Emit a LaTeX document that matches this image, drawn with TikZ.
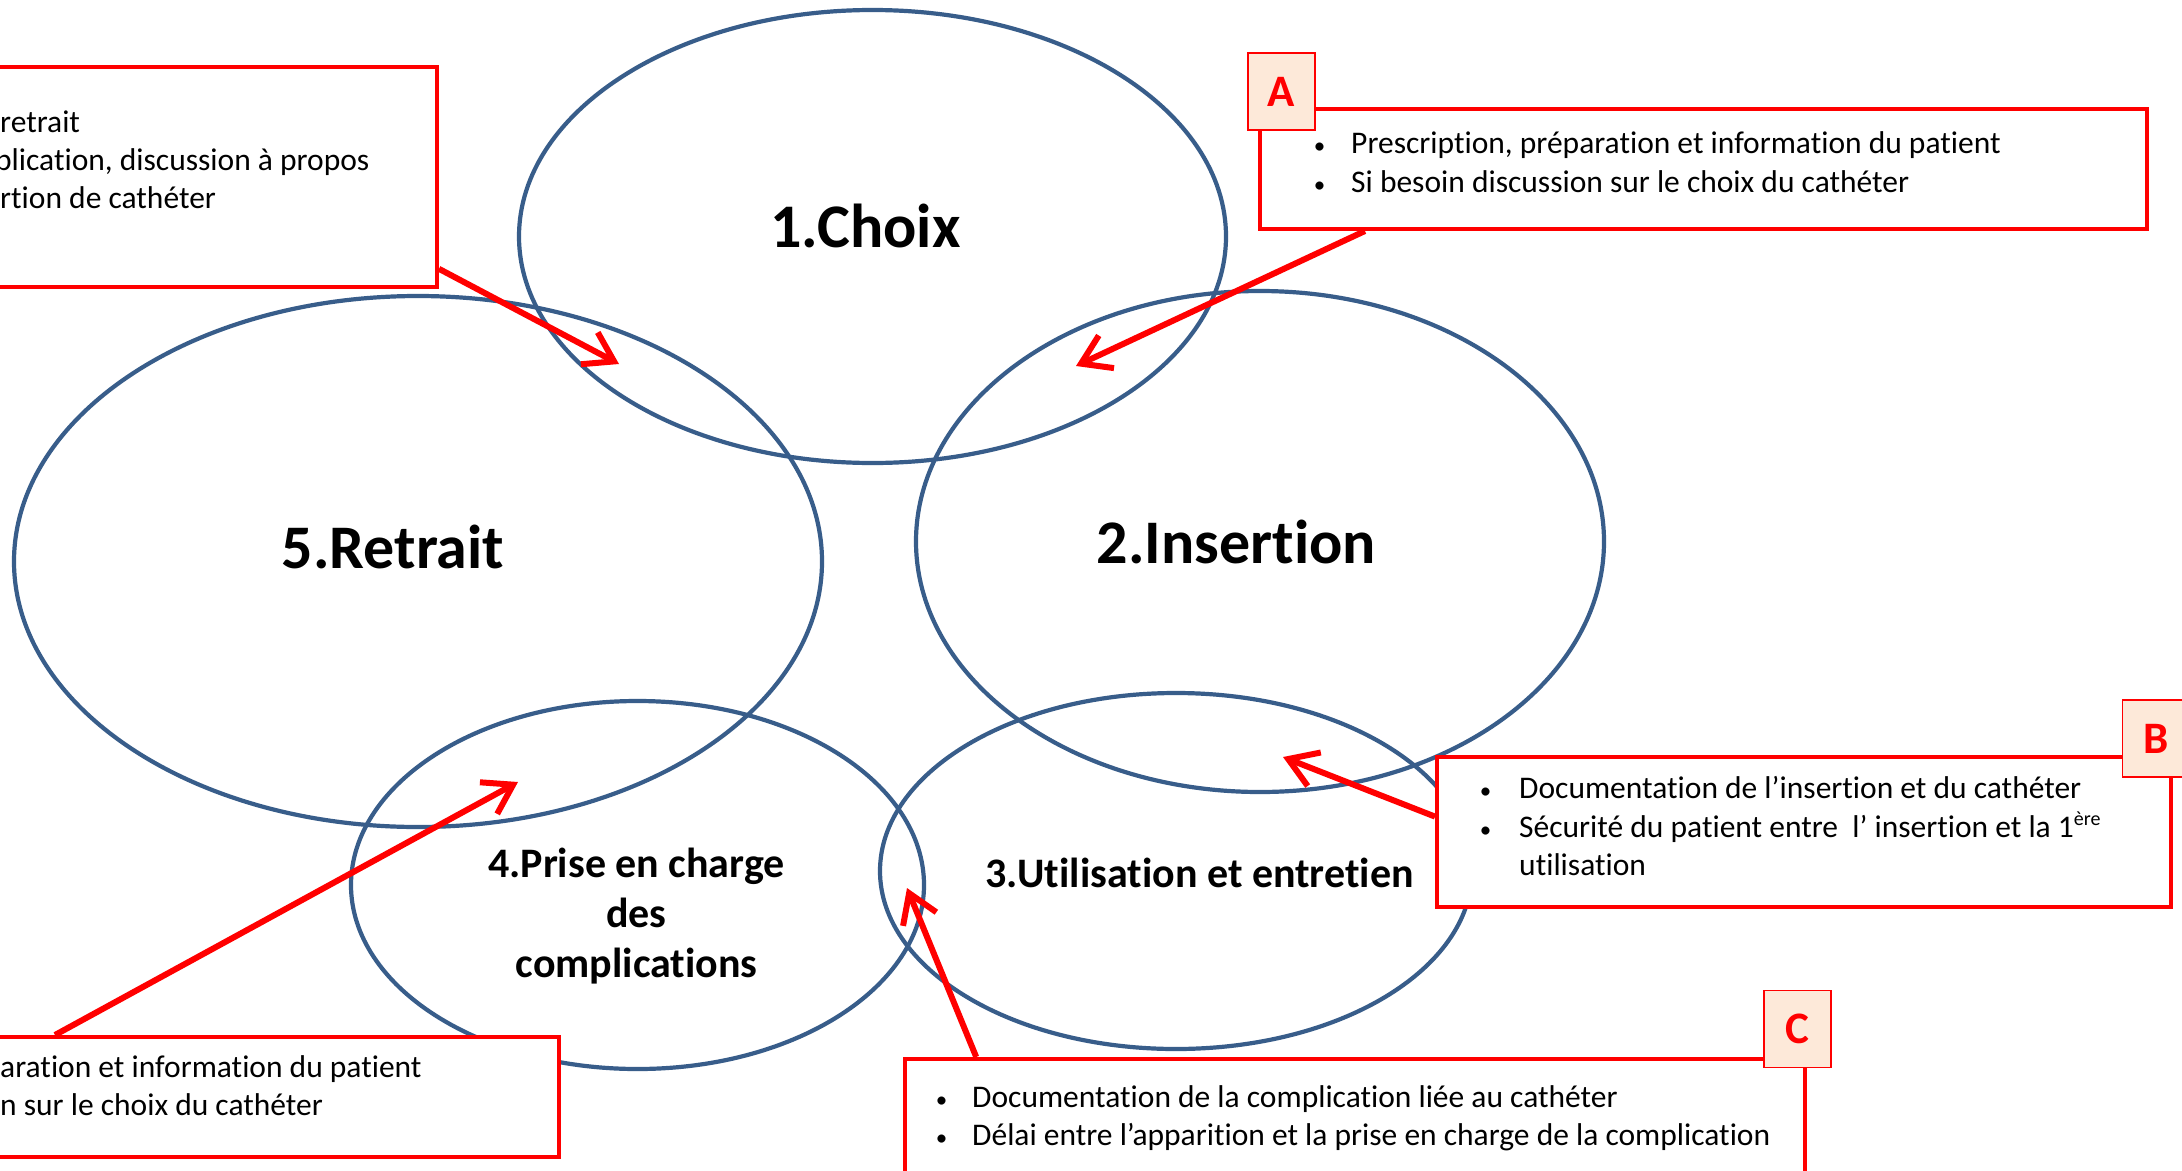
\documentclass[tikz,border=0pt]{standalone}
\usepackage{fontspec}
\setmainfont{Carlito}[Ligatures={NoCommon,NoRare},Contextuals=NoAlternate,RawFeature=-clig]
\usetikzlibrary{arrows.meta,shapes.geometric,calc}
\definecolor{ellblue}{RGB}{56,93,138}
\definecolor{peach}{RGB}{253,233,217}
\begin{document}
\begin{tikzpicture}[x=1pt,y=-1pt,
  ell/.style={draw=ellblue,line width=4.2pt,ellipse,inner sep=0pt},
  rbox/.style={draw=red,fill=white,line width=4pt,rectangle,inner sep=0pt},
  tag/.style={draw=red,fill=peach,line width=1.5pt,minimum width=67pt,minimum height=77pt,inner sep=0pt,text=red,font=\fontsize{45}{45}\selectfont\bfseries},
  big/.style={font=\fontsize{62}{62}\selectfont\bfseries,anchor=base,inner sep=0pt},
  mid/.style={font=\fontsize{42}{50}\selectfont\bfseries,anchor=base,inner sep=0pt},
  txt/.style={font=\fontsize{31.5}{38}\selectfont,anchor=base west,inner sep=0pt},
  bul/.style={font=\fontsize{23}{23}\selectfont,anchor=base,inner sep=0pt},
  arr/.style={draw=red,line width=6pt,-{Straight Barb[length=28pt,width=36pt]}}
]
\useasboundingbox (0,0) rectangle (2182,1170);
\clip (0,0) rectangle (2182,1170);
\fill[white] (0,0) rectangle (2182,1170);

% ellipses
\node[ell,minimum width=707pt,minimum height=453pt] (e1) at (872.5,236.5) {};
\node[ell,minimum width=808pt,minimum height=531pt] (e5) at (418,561.5) {};
\node[ell,minimum width=688pt,minimum height=501pt] (e2) at (1260,541.5) {};
\node[ell,minimum width=573pt,minimum height=368pt] (e4) at (637.5,885) {};
\node[ell,minimum width=592pt,minimum height=356pt] (e3) at (1176,871) {};

% ellipse labels
\node[big] (l1) at (865.5,247) {1.Choix};
\node[big] (l5) at (393,568) {5.Retrait};
\node[big] (l2) at (1236.5,563) {2.Insertion};
\node[mid] (l3) at (1199.5,887) {3.Utilisation et entretien};
\node[mid] (l4a) at (636.5,877) {4.Prise en charge};
\node[mid] (l4b) at (636.5,927) {des};
\node[mid] (l4c) at (636.5,977) {complications};

% boxes
\node[rbox,minimum width=737pt,minimum height=220pt] (boxTL) at (68.5,177) {};
\node[rbox,minimum width=887pt,minimum height=120pt] (boxA) at (1703.5,169) {};
\node[rbox,minimum width=734pt,minimum height=150pt] (boxB) at (1804,832) {};
\node[rbox,minimum width=900pt,minimum height=191pt] (boxC) at (1355,1154.5) {};
\node[rbox,minimum width=859pt,minimum height=120pt] (boxBL) at (129.5,1097) {};

% tags
\node[tag] (tagA) at (1281.5,91.5) {A};
\node[tag] (tagB) at (2156,738.5) {B};
\node[tag] (tagC) at (1797.5,1029) {C};

% box texts
\node[txt] (tl1) at (0,132) {retrait};
\node[txt] (tl2) at (-5,170) {plication, discussion à propos};
\node[txt] (tl3) at (0,208) {rtion de cathéter};

\node[bul] (ba1) at (1319.5,153) {•};
\node[txt] (ta1) at (1351,153) {Prescription, préparation et information du patient};
\node[bul] (ba2) at (1319.5,192) {•};
\node[txt] (ta2) at (1351,192) {Si besoin discussion sur le choix du cathéter};

\node[bul] (bb1) at (1485.5,798) {•};
\node[txt] (tb1) at (1519,798) {Documentation de l’insertion et du cathéter};
\node[bul] (bb2) at (1485.5,837) {•};
\node[txt] (tb2) at (1519,837) {Sécurité du patient entre\ \ l’ insertion et la 1\raisebox{12pt}{\fontsize{20}{20}\selectfont ère}};
\node[txt] (tb3) at (1519,875) {utilisation};

\node[bul] (bc1) at (941.5,1107) {•};
\node[txt] (tc1) at (972,1107) {Documentation de la complication liée au cathéter};
\node[bul] (bc2) at (941.5,1145) {•};
\node[txt] (tc2) at (972,1145) {Délai entre l’apparition et la prise en charge de la complication};

\node[txt] (tbl1) at (0,1077) {aration et information du patient};
\node[txt] (tbl2) at (0,1115) {n sur le choix du cathéter};

% arrow tips
\coordinate (tTL) at (619,364);
\coordinate (tA) at (1076,366);
\coordinate (tB) at (1283,757);
\coordinate (tC) at (907,888);
\coordinate (tBL) at (518,782);

% arrows
\draw[arr] ($(boxTL.north east)!0.91!(boxTL.south east)$) -- (tTL);
\draw[arr] ($(boxA.south west)!0.12!(boxA.south east)$) -- (tA);
\draw[arr] ($(boxB.north west)!0.4!(boxB.south west)$) -- (tB);
\draw[arr] ($(boxC.north west)!0.081!(boxC.north east)$) -- (tC);
\draw[arr] ($(boxBL.north east)+(-506,0)$) -- (tBL);
\end{tikzpicture}
\end{document}
